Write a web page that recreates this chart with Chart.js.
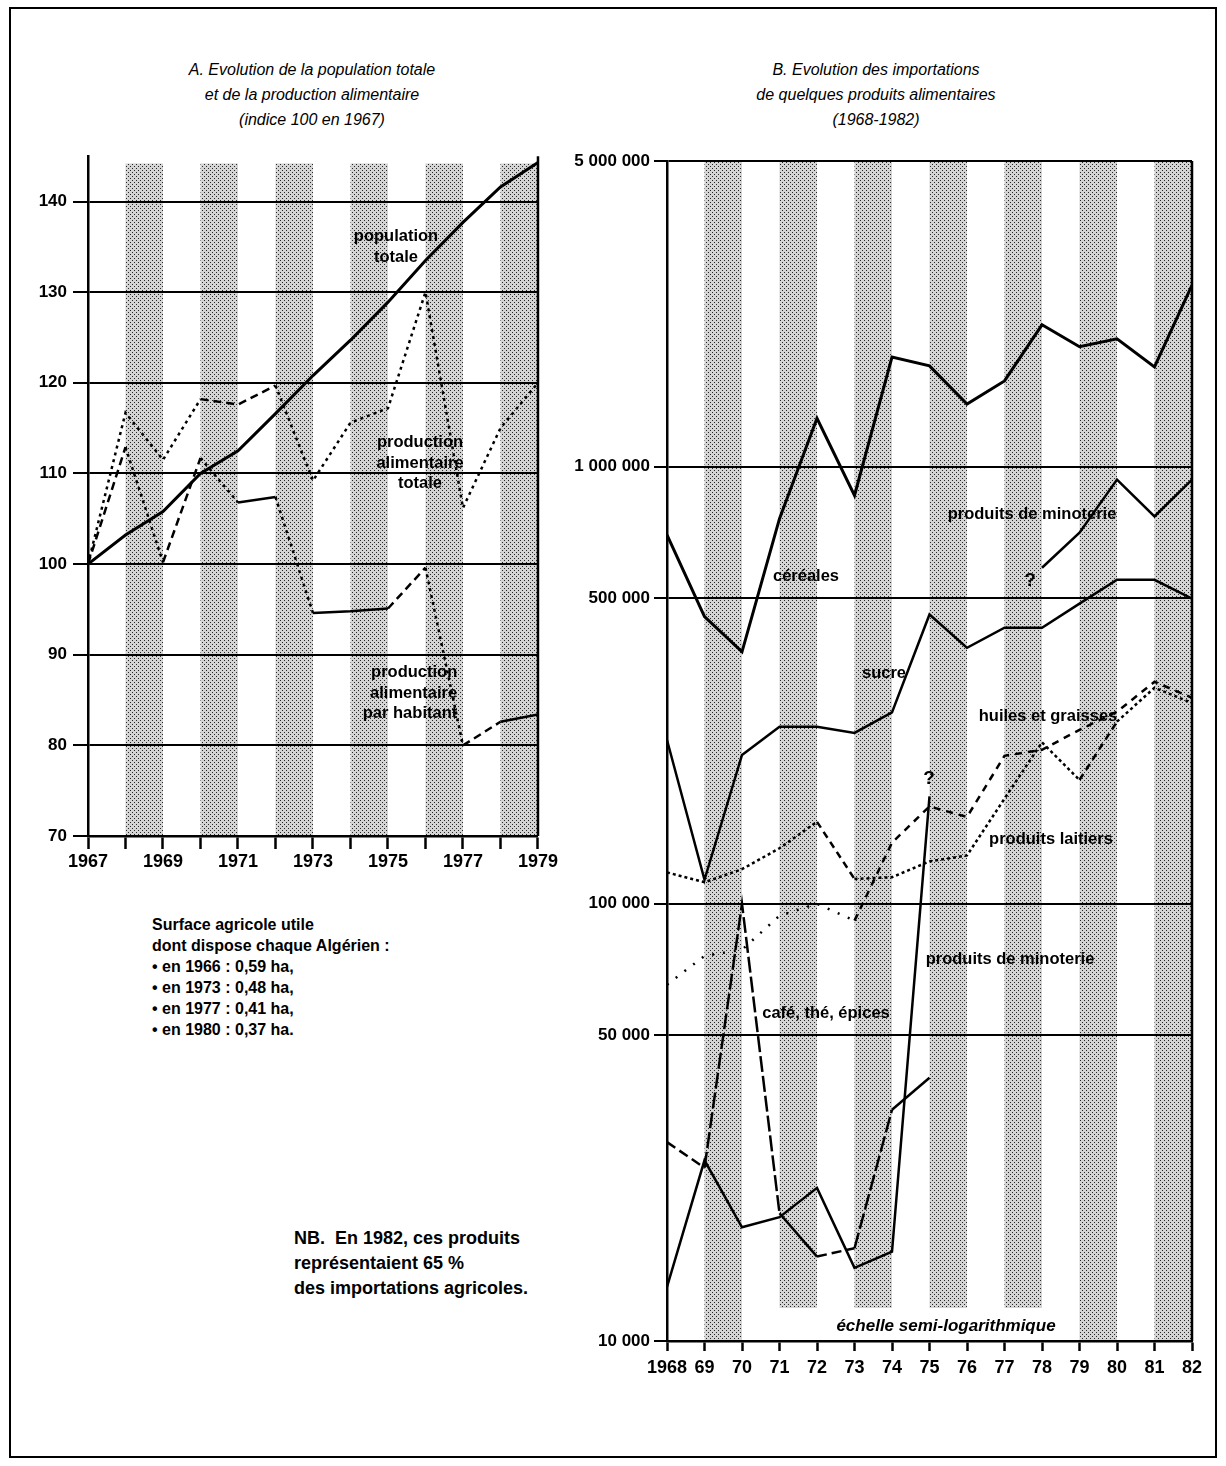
<!DOCTYPE html>
<html lang="fr">
<head>
<meta charset="utf-8">
<title>Algérie : population, production et importations alimentaires</title>
<script src="https://cdn.jsdelivr.net/npm/chart.js@4/dist/chart.umd.min.js"></script>
<style>
  body { margin: 0; background: #fff; }
  #page { position: relative; width: 1226px; height: 1466px; overflow: hidden;
    font-family: 'Liberation Sans', Arial, Helvetica, sans-serif; color: #000; }
  .frame { position: absolute; left: 9px; top: 7px; width: 1204px; height: 1447px; border: 2px solid #000; }
  .box { position: absolute; }
  .title { position: absolute; width: 420px; text-align: center; font-style: italic;
    font-size: 16px; line-height: 25px; transform: translateX(-50%); }
  .lbl { position: absolute; transform: translate(-50%, -50%); font-weight: bold;
    font-size: 16.5px; line-height: 20.5px; text-align: center; white-space: nowrap; }
  .note { position: absolute; font-weight: bold; font-size: 16px; line-height: 21px; white-space: nowrap; }
</style>
</head>
<body>
<div id="page">
  <div class="frame"></div>

  <div class="title" style="left:312px; top:57px;">A. Evolution de la population totale<br>et de la production alimentaire<br>(indice 100 en 1967)</div>
  <div class="title" style="left:876px; top:57px;">B. Evolution des importations<br>de quelques produits alimentaires<br>(1968-1982)</div>

  <div class="box" style="left:20px; top:140px; width:540px; height:740px;"><canvas id="chartA"></canvas></div>
  <div class="box" style="left:560px; top:140px; width:650px; height:1250px;"><canvas id="chartB"></canvas></div>

  <!-- libellés du graphique A -->
  <div class="lbl" style="left:396px; top:245px;">population<br>totale</div>
  <div class="lbl" style="left:420px; top:462px;">production<br>alimentaire<br>totale</div>
  <div class="lbl" style="left:410px; top:692px; text-align:right;">production<br>alimentaire<br>par habitant</div>

  <!-- libellés du graphique B -->
  <div class="lbl" style="left:806px; top:575px;">céréales</div>
  <div class="lbl" style="left:1032px; top:513px;">produits de minoterie</div>
  <div class="lbl" style="left:1030px; top:580px; font-size:19px;">?</div>
  <div class="lbl" style="left:884px; top:672px;">sucre</div>
  <div class="lbl" style="left:1048px; top:715px;">huiles et graisses</div>
  <div class="lbl" style="left:1051px; top:838px;">produits laitiers</div>
  <div class="lbl" style="left:929px; top:778px; font-size:19px;">?</div>
  <div class="lbl" style="left:1010px; top:958px;">produits de minoterie</div>
  <div class="lbl" style="left:826px; top:1012px;">café, thé, épices</div>
  <div class="lbl" style="left:946px; top:1326px; font-style:italic; font-size:17px;">échelle semi-logarithmique</div>

  <div class="note" style="left:152px; top:914px;">Surface agricole utile<br>dont dispose chaque Algérien :<br>• en 1966 : 0,59 ha,<br>• en 1973 : 0,48 ha,<br>• en 1977 : 0,41 ha,<br>• en 1980 : 0,37 ha.</div>
  <div class="note" style="left:294px; top:1226px; font-size:18px; line-height:25px;">NB.&nbsp; En 1982, ces produits<br>représentaient 65 %<br>des importations agricoles.</div>
</div>

<script>
// --- A : indice 100 en 1967 ---
const yearsA = [1967, 1968, 1969, 1970, 1971, 1972, 1973, 1974, 1975, 1976, 1977, 1978, 1979];
const xLabelsA = ['1967', '1969', '1971', '1973', '1975', '1977', '1979'];
const yTicksA = [70, 80, 90, 100, 110, 120, 130, 140];
const populationTotale = [100, 103.2, 105.8, 110, 112.5, 116.6, 120.8, 124.7, 128.9, 133.5, 137.7, 141.6, 144.3];
const productionTotale = [100, 116.7, 111.5, 118.2, 117.6, 119.7, 109.2, 115.6, 117.2, 130, 106.2, 115, 120];
const productionParHabitant = [100, 112.9, 100.2, 111.7, 106.8, 107.4, 94.6, 94.8, 95.1, 99.6, 80, 82.6, 83.4];

// --- B : importations (tonnes), échelle log ---
const yearsB = [1968, 1969, 1970, 1971, 1972, 1973, 1974, 1975, 1976, 1977, 1978, 1979, 1980, 1981, 1982];
const xLabelsB = ['1968', '69', '70', '71', '72', '73', '74', '75', '76', '77', '78', '79', '80', '81', '82'];
const yTicksB = [10000, 50000, 100000, 500000, 1000000, 5000000];
const yLabelsB = ['10 000', '50 000', '100 000', '500 000', '1 000 000', '5 000 000'];
const cereales = [698000, 454000, 377000, 760000, 1290000, 859000, 1780000, 1700000, 1390000, 1570000, 2110000, 1880000, 1960000, 1690000, 2600000];
const minoterie = [13300, 25900, 18200, 19200, 22400, 14700, 16000, 176000, null, null, 587000, 706000, 934000, 769000, 934000];
const sucre = [237000, 113500, 219000, 254000, 254000, 246000, 274000, 459000, 385000, 428000, 428000, 486000, 551000, 551000, 499000];
const huiles = [65300, 76000, 78500, 93900, 100000, 91500, 138000, 167000, 158000, 218000, 225000, 250000, 275000, 322000, 296000];
const laitiers = [118000, 112000, 120000, 134000, 154000, 114000, 115000, 125000, 129000, 174000, 234000, 192000, 261000, 312000, 288000];
const cafe = [28500, 24900, 100000, 19600, 15600, 16300, 33800, 40000, null, null, null, null, null, null, null];

const bandStartsA = [1968, 1970, 1972, 1974, 1976, 1978];
const bandStartsB = [1969, 1971, 1973, 1975, 1977, 1979, 1981];

Chart.defaults.font.family = "'Liberation Sans', Arial, Helvetica, sans-serif";
Chart.defaults.color = '#000';
Chart.defaults.animation = false;

// trame pointillée des bandes
const stipple = (() => {
  const c = document.createElement('canvas');
  c.width = 4; c.height = 4;
  const g = c.getContext('2d');
  g.fillStyle = '#d4d4d4'; g.fillRect(0, 0, 4, 4);
  g.fillStyle = '#262626'; g.fillRect(0, 0, 1, 1); g.fillRect(2, 2, 1, 1);
  return c;
})();

const bandsPlugin = {
  id: 'bands',
  beforeDraw(chart, args, opts) {
    const { ctx, chartArea } = chart;
    const x = chart.scales.x, y = chart.scales.y;
    ctx.save();
    ctx.fillStyle = ctx.createPattern(stipple, 'repeat');
    opts.starts.forEach((s) => {
      const x0 = x.getPixelForValue(s), x1 = x.getPixelForValue(s + 1);
      const top = y.getPixelForValue(opts.top);
      const low = opts.short && opts.short.includes(s) ? opts.shortBottom : y.min;
      const bottom = y.getPixelForValue(low);
      ctx.fillRect(x0, top, x1 - x0, bottom - top);
    });
    ctx.strokeStyle = '#000';
    ctx.lineWidth = 2.5;
    ctx.beginPath();
    ctx.moveTo(chartArea.right, chartArea.top);
    ctx.lineTo(chartArea.right, chartArea.bottom);
    ctx.stroke();
    ctx.restore();
  },
};

const DOT = [3, 4], DASH = [8, 5], SOLID = [];
const styleTotale = [DOT, DOT, DOT, DASH, DASH, DOT, DOT, DOT, DOT, DOT, DOT, DOT];
const styleHabitant = [DASH, DOT, DASH, DOT, SOLID, DOT, SOLID, SOLID, DASH, DOT, DASH, SOLID];

const pts = (xs, ys) => xs.map((x, i) => ({ x, y: ys[i] }));
const tickFont = { size: 18, weight: 'bold' };

new Chart(document.getElementById('chartA'), {
  type: 'line',
  data: {
    datasets: [
      { label: 'population totale', data: pts(yearsA, populationTotale), borderColor: '#000', borderWidth: 3 },
      { label: 'production alimentaire totale', data: pts(yearsA, productionTotale), borderColor: '#000', borderWidth: 2.5,
        segment: { borderDash: (c) => styleTotale[c.p0DataIndex] } },
      { label: 'production alimentaire par habitant', data: pts(yearsA, productionParHabitant), borderColor: '#000', borderWidth: 2.5,
        segment: { borderDash: (c) => styleHabitant[c.p0DataIndex] } },
    ],
  },
  options: {
    responsive: true,
    maintainAspectRatio: false,
    layout: { padding: { top: 16, right: 22, left: 0, bottom: 0 } },
    elements: { point: { radius: 0 }, line: { tension: 0, fill: false } },
    plugins: {
      legend: { display: false },
      tooltip: { enabled: false },
      bands: { starts: bandStartsA, top: 144.2 },
    },
    scales: {
      x: {
        type: 'linear', min: 1967, max: 1979,
        afterBuildTicks: (s) => { s.ticks = yearsA.map((v) => ({ value: v })); },
        afterFit: (s) => { s.height = 44; },
        grid: { drawOnChartArea: false, tickLength: 13, tickWidth: 2.5, tickColor: '#000' },
        border: { color: '#000', width: 2.5 },
        ticks: { callback: (v) => (xLabelsA.includes(String(v)) ? String(v) : ''), font: tickFont, padding: 2, maxRotation: 0, autoSkip: false },
      },
      y: {
        min: 70, max: 145,
        afterBuildTicks: (s) => { s.ticks = yTicksA.map((v) => ({ value: v })); },
        afterFit: (s) => { s.width = 68; },
        grid: { color: '#000', lineWidth: 2, tickLength: 15, tickWidth: 2, tickColor: '#000' },
        border: { color: '#000', width: 2.5 },
        ticks: { font: { size: 17, weight: 'bold' }, padding: 6, autoSkip: false },
      },
    },
  },
  plugins: [bandsPlugin],
});

const SPARSE = [2, 9], HDASH = [7, 6], LDOT = [3, 3], LDASH = [7, 5], LONG = [16, 4], MID = [10, 5];
const styleHuiles = [SPARSE, SPARSE, SPARSE, SPARSE, SPARSE, HDASH, HDASH, HDASH, HDASH, HDASH, HDASH, HDASH, HDASH, HDASH];
const styleLaitiers = [LDOT, LDOT, LDOT, LDOT, LDASH, LDOT, LDOT, LDOT, LDOT, LDOT, LDOT, LDASH, LDOT, LDOT];
const styleCafe = [MID, LONG, LONG, SOLID, MID, LONG, SOLID];

new Chart(document.getElementById('chartB'), {
  type: 'line',
  data: {
    datasets: [
      { label: 'céréales', data: pts(yearsB, cereales), borderColor: '#000', borderWidth: 3 },
      { label: 'produits de minoterie', data: pts(yearsB, minoterie), borderColor: '#000', borderWidth: 2.5, spanGaps: false },
      { label: 'sucre', data: pts(yearsB, sucre), borderColor: '#000', borderWidth: 2.5 },
      { label: 'huiles et graisses', data: pts(yearsB, huiles), borderColor: '#000', borderWidth: 2.5,
        segment: { borderDash: (c) => styleHuiles[c.p0DataIndex] } },
      { label: 'produits laitiers', data: pts(yearsB, laitiers), borderColor: '#000', borderWidth: 2.5,
        segment: { borderDash: (c) => styleLaitiers[c.p0DataIndex] } },
      { label: 'café, thé, épices', data: pts(yearsB, cafe), borderColor: '#000', borderWidth: 2.5, spanGaps: false,
        segment: { borderDash: (c) => styleCafe[c.p0DataIndex] } },
    ],
  },
  options: {
    responsive: true,
    maintainAspectRatio: false,
    layout: { padding: { top: 21, right: 18, left: 0, bottom: 0 } },
    elements: { point: { radius: 0 }, line: { tension: 0, fill: false } },
    plugins: {
      legend: { display: false },
      tooltip: { enabled: false },
      bands: { starts: bandStartsB, top: 5000000, short: [1971, 1973, 1975, 1977], shortBottom: 11900 },
    },
    scales: {
      x: {
        type: 'linear', min: 1968, max: 1982,
        afterBuildTicks: (s) => { s.ticks = yearsB.map((v) => ({ value: v })); },
        afterFit: (s) => { s.height = 49; },
        grid: { drawOnChartArea: false, tickLength: 10, tickWidth: 2.5, tickColor: '#000' },
        border: { color: '#000', width: 2.5 },
        ticks: { callback: (v) => xLabelsB[yearsB.indexOf(v)], font: tickFont, padding: 6, maxRotation: 0, autoSkip: false },
      },
      y: {
        type: 'logarithmic', min: 10000, max: 5000000,
        afterBuildTicks: (s) => { s.ticks = yTicksB.map((v) => ({ value: v })); },
        afterFit: (s) => { s.width = 107; },
        grid: { color: '#000', lineWidth: 2, tickLength: 13, tickWidth: 2, tickColor: '#000' },
        border: { color: '#000', width: 2.5 },
        ticks: { callback: (v) => yLabelsB[yTicksB.indexOf(v)], font: { size: 17, weight: 'bold' }, padding: 4, autoSkip: false },
      },
    },
  },
  plugins: [bandsPlugin],
});
</script>
</body>
</html>
